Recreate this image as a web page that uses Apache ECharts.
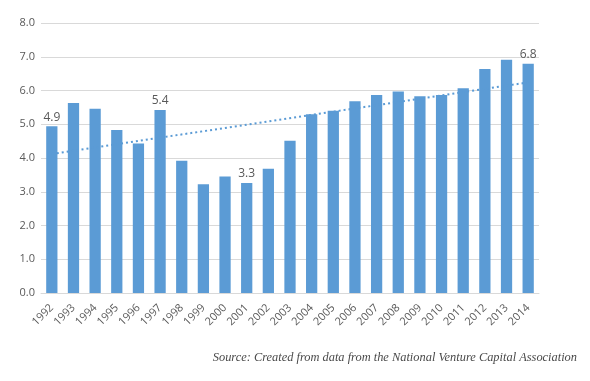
<!DOCTYPE html>
<html><head><meta charset="utf-8">
<script src="https://cdn.jsdelivr.net/npm/echarts@6/dist/echarts.min.js"></script>
<style>html,body{margin:0;padding:0;background:#fff;}#c{width:590px;height:381px;}</style>
</head><body><div id="c"></div>
<script>
const years = ['1992','1993','1994','1995','1996','1997','1998','1999','2000','2001','2002','2003','2004','2005','2006','2007','2008','2009','2010','2011','2012','2013','2014'];
const values = [4.94,5.63,5.46,4.83,4.43,5.42,3.92,3.22,3.45,3.26,3.68,4.51,5.30,5.40,5.68,5.87,5.97,5.83,5.87,6.07,6.64,6.91,6.79];
const labeledYears = ['1992','1997','2001','2014'];
const trendStart = 4.12, trendEnd = 6.24;
const yTicks = [0,1,2,3,4,5,6,7,8];
const sourceText = 'Source: Created from data from the National Venture Capital Association';

const trend = years.map((y,i)=> i===0 ? trendStart : (i===years.length-1 ? trendEnd : null));
const chart = echarts.init(document.getElementById('c'));
chart.setOption({
  animation:false,
  grid:{left:41,right:51,top:23,bottom:88},
  xAxis:{type:'category',data:years,
    axisLine:{lineStyle:{color:'#d9d9d9'}},axisTick:{show:false},
    axisLabel:{rotate:45,color:'#595959',fontSize:11,fontFamily:'Open Sans',margin:13,interval:0}},
  yAxis:{type:'value',min:yTicks[0],max:yTicks[yTicks.length-1],interval:1,
    axisLine:{show:false},axisTick:{show:false},
    splitLine:{lineStyle:{color:'#d9d9d9'}},
    axisLabel:{color:'#595959',fontSize:11,fontFamily:'Open Sans',margin:6,formatter:v=>v.toFixed(1)}},
  series:[
    {type:'bar',data:values.map((v,i)=>({value:v,label:{show:labeledYears.includes(years[i])}})),
     barWidth:'52%',itemStyle:{color:'#5B9BD5'},
     label:{position:'top',distance:3,color:'#595959',fontSize:12,fontFamily:'Open Sans',formatter:p=>p.value.toFixed(1)}},
    {type:'line',data:trend,connectNulls:true,symbol:'none',z:5,
     lineStyle:{color:'#5B9BD5',width:2,type:[2,3]}}
  ],
  graphic:[{type:'text',right:13,top:352,style:{text:sourceText,font:'italic 12.4px "Liberation Serif"',fill:'#4a4a4a'}}]
});
</script></body></html>
